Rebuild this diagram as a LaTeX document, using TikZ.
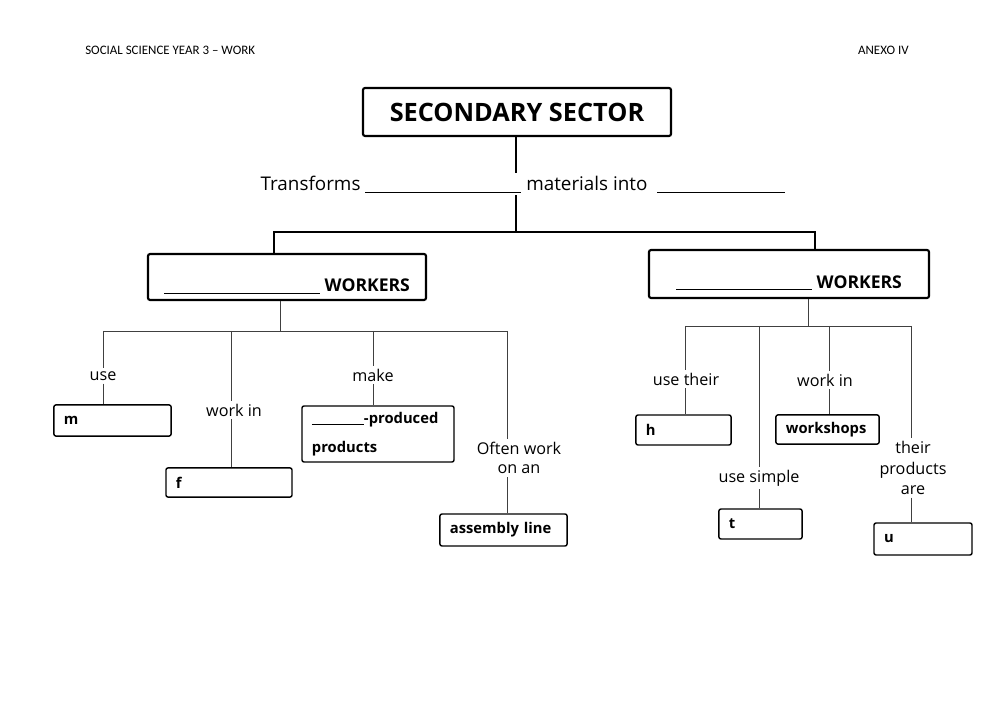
\documentclass[tikz,border=0pt]{standalone}
\usepackage{fontspec}
\setmainfont{Open Sans}
\newfontfamily\headfont{Carlito}

\newcommand{\blank}[1]{\rule[-1.5pt]{#1}{0.5pt}}

\begin{document}
\begin{tikzpicture}[
    x=0.025cm,
    y=-0.025cm,
    sketch/.style={
        rounded corners=1.5pt
    },
    main box/.style={
        draw,
        sketch,
        line width=1.5pt,
        inner sep=0pt,
        align=center
    },
    answer box/.style 2 args={
        draw,
        sketch,
        line width=1pt,
        text width=#1,
        minimum height=#2,
        inner xsep=0.25cm,
        inner ysep=0pt,
        align=left,
        font=\bfseries\fontsize{10.5}{12}\selectfont
    },
    branch label/.style={
        font=\fontsize{11.5}{14}\selectfont,
        align=center,
        inner sep=2pt
    },
    head/.style={
        font=\headfont\fontsize{9.2}{11}\selectfont,
        inner sep=0pt
    },
    trunk/.style={
        line width=1.6pt
    },
    link/.style={
        black!75,
        line width=0.5pt
    }
]

%% --- Fond ---
\path[use as bounding box, fill=white] (0,0) rectangle (1000,707);

%% --- En-tete ---
\node[head, anchor=west] (Head) at (85,50) {SOCIAL SCIENCE YEAR 3 – WORK};
\node[head, anchor=east] (Annex) at (909,50) {ANEXO IV};

%% --- Titre ---
\node[main box, minimum width=7.7cm, minimum height=1.2cm,
      font=\bfseries\fontsize{18}{20}\selectfont] (SS) at (517,112) {SECONDARY SECTOR};
\node[font=\fontsize{13.4}{15}\selectfont, inner sep=2pt] (TR) at (523,184)
    {Transforms \blank{3.9cm} materials into\ \ \blank{3.2cm}};

%% --- Travailleurs ---
\node[main box, minimum width=6.95cm, minimum height=1.15cm, text height=23pt, text depth=2pt,
      font=\bfseries\fontsize{12.5}{14}\selectfont] (LW) at (287,277) {\blank{3.9cm} WORKERS};
\node[main box, minimum width=7cm, minimum height=1.2cm, text height=22pt, text depth=2pt,
      font=\bfseries\fontsize{12.5}{14}\selectfont] (RW) at (789,274) {\blank{3.4cm} WORKERS};

\coordinate (J)  at (516,232);
\coordinate (JL) at (274,232);
\coordinate (JR) at (815,232);

\draw[trunk] (SS.south -| J) -- (TR.north -| J);
\draw[trunk] (TR.south -| J) -- (J);
\draw[trunk] (JL |- LW.north) -- (JL) -- (JR) -- (JR |- RW.north);

%% --- Branches gauche ---
\coordinate (LJ) at (280,331);
\coordinate (L1) at (103,331);
\coordinate (L2) at (231,331);
\coordinate (L3) at (373,331);
\coordinate (L4) at (507,331);

\node[branch label] (Use)   at (103,376) {use};
\node[branch label] (WorkL) at (234,410) {work in};
\node[branch label] (Make)  at (373,375) {make};
\node[branch label] (Often) at (519,458) {Often work\\on an};

\node[answer box={2.43cm}{0.78cm}] (M) at (112.5,420.5) {m};
\node[answer box={2.65cm}{0.73cm}] (F) at (229,482.5) {f};
\node[answer box={3.3cm}{1.4cm}] (MP) at (378,434)
    {\blank{1.3cm}-produced\\[9pt]products};
\node[answer box={2.68cm}{0.8cm}] (AL) at (503.5,530) {assembly line};

\draw[link] (LJ |- LW.south) -- (LJ);
\draw[link] (L1) -- (L4);
\draw[link] (L1) -- (L1 |- Use.north);
\draw[link] (L1 |- Use.south) -- (L1 |- M.north);
\draw[link] (L2) -- (L2 |- WorkL.north);
\draw[link] (L2 |- WorkL.south) -- (L2 |- F.north);
\draw[link] (L3) -- (L3 |- Make.north);
\draw[link] (L3 |- Make.south) -- (L3 |- MP.north);
\draw[link] (L4) -- (L4 |- Often.north);
\draw[link] (L4 |- Often.south) -- (L4 |- AL.north);

%% --- Branches droite ---
\coordinate (RJ) at (808,326);
\coordinate (R1) at (685,326);
\coordinate (R2) at (759,326);
\coordinate (R3) at (829,326);
\coordinate (R4) at (911,326);

\node[branch label] (UseT)  at (686,379) {use their};
\node[branch label] (UseS)  at (759,478) {use simple};
\node[branch label] (WorkR) at (825,380) {work in};
\node[branch label, font=\fontsize{11.5}{14.5}\selectfont] (Prod) at (913,468) {their\\products\\are};

\node[answer box={1.88cm}{0.75cm}] (H)  at (683.5,430) {h};
\node[answer box={1.58cm}{0.75cm}] (T)  at (760.5,524) {t};
\node[answer box={2.08cm}{0.73cm}] (WS) at (827.5,429.5) {workshops};
\node[answer box={1.95cm}{0.8cm}]  (U)  at (923,539) {u};

\draw[link] (RJ |- RW.south) -- (RJ);
\draw[link] (R1) -- (R4);
\draw[link] (R1) -- (R1 |- UseT.north);
\draw[link] (R1 |- UseT.south) -- (R1 |- H.north);
\draw[link] (R2) -- (R2 |- UseS.north);
\draw[link] (R2 |- UseS.south) -- (R2 |- T.north);
\draw[link] (R3) -- (R3 |- WorkR.north);
\draw[link] (R3 |- WorkR.south) -- (R3 |- WS.north);
\draw[link] (R4) -- (R4 |- Prod.north);
\draw[link] (R4 |- Prod.south) -- (R4 |- U.north);

\end{tikzpicture}
\end{document}
